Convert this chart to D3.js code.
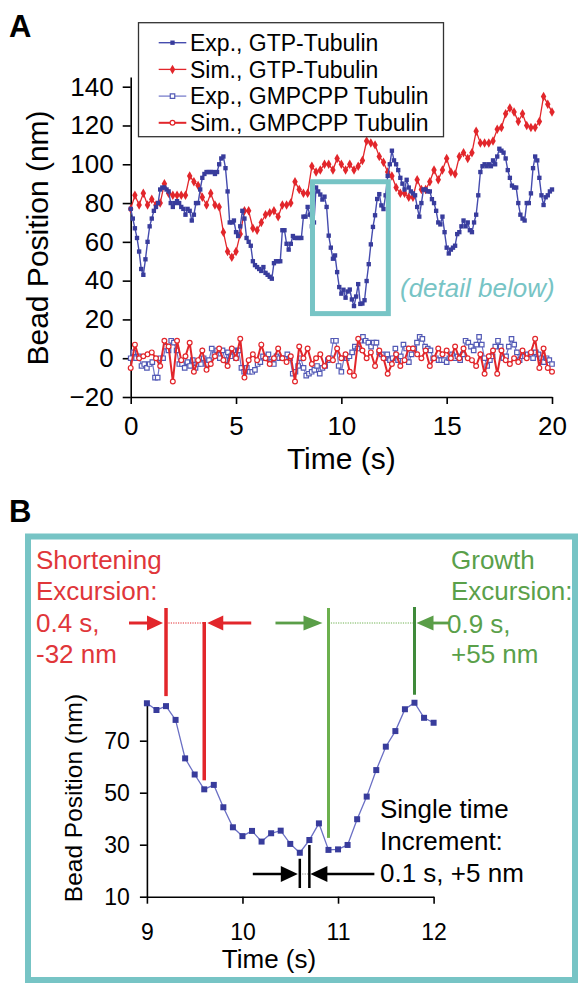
<!DOCTYPE html>
<html>
<head>
<meta charset="utf-8">
<title>Bead position traces</title>
<script src="https://d3js.org/d3.v7.min.js"></script>
<style>
  body { margin: 0; background: #fff; }
  svg text { font-family: "Liberation Sans", Arial, Helvetica, sans-serif; }
  .axis path, .axis line { stroke: #000; stroke-width: 1.6px; }
  .axis text { fill: #000; }
</style>
</head>
<body>
<svg id="fig" width="578" height="983"></svg>
<script>
// ---- panel A data ----
// experimental GTP-tubulin trace, one sample every 0.1 s
var expGTPStep = 0.1;
var expGTPStart = [ // 0.0 - 8.9 s
  77, 72, 67, 62, 55, 46, 43, 51, 60, 68,
  72, 76, 78, 80, 87, 88, 88, 87, 86, 80,
  78, 80, 81, 80, 78, 77, 74, 77, 76, 71,
  74, 80, 80, 87, 93, 95, 96, 96, 96, 96,
  95, 96, 100, 103, 104, 98, 86, 70, 70, 71,
  65, 63, 68, 76, 72, 62, 60, 58, 50, 48,
  47, 46, 45, 47, 44, 43, 42, 41, 49, 50,
  50, 50, 66, 66, 59, 56, 59, 63, 62, 62,
  62, 62, 73, 73, 78, 74, 68, 70, 88, 86
];
var detailBead = [ // 9.0 - 12.0 s, also panel B
  84.4, 81.8, 83.3, 78, 63.2, 57, 51.3, 53, 44.4, 36.7,
  33.3, 35.3, 31.2, 34.4, 35.4, 30.3, 26.9, 31.8, 38.2, 28,
  28.2, 29.9, 39.8, 48.5, 58.7, 67.7, 73.7, 82.1, 84.6, 78.8,
  76.9
];
var expGTPEnd = [ // 12.1 - 20.0 s
  84, 94, 100, 107, 102, 100, 97, 93, 90, 87,
  92, 88, 86, 85, 84, 78, 73, 80, 87, 87,
  86, 86, 82, 80, 76, 70, 69, 73, 65, 57,
  54, 56, 57, 58, 64, 65, 68, 71, 68, 70,
  66, 65, 70, 74, 84, 96, 99, 100, 99, 100,
  99, 102, 100, 104, 108, 107, 106, 103, 97, 93,
  89, 88, 88, 80, 74, 72, 71, 80, 80, 85,
  98, 104, 102, 93, 84, 79, 83, 84, 86, 87
];
var expGTP = expGTPStart.concat(detailBead, expGTPEnd);

// simulated GTP-tubulin, every 0.2 s
var simGTPStep = 0.2;
var simGTP = [
  77, 84, 79, 85, 79, 82, 79, 80, 90, 85,
  84, 84, 84, 84, 94, 91, 89, 83, 79, 85,
  79, 78, 65, 55, 52, 55, 64, 76, 76, 67,
  66, 70, 74, 75, 76, 73, 79, 79, 80, 91,
  87, 85, 85, 99, 96, 97, 100, 100, 97, 103,
  100, 97, 100, 97, 99, 102, 112, 111, 110, 104,
  101, 96, 94, 88, 85, 85, 83, 83, 92, 87,
  87, 91, 97, 92, 97, 103, 96, 95, 104, 106,
  103, 106, 117, 111, 111, 111, 112, 118, 119, 126,
  129, 127, 122, 126, 120, 119, 119, 122, 135, 131,
  127
];

// experimental GMPCPP tubulin, samples spread evenly over 0 - 20 s
var expGMPCPP = [
  0, 3, 0, 1, -4, -3, -5, -3, -2, -10,
  -10, 0, 0, 6, 4, 9, 8, 4, -3, -3,
  -5, -2, -4, -1, -5, -3, -3, 0, -3, -1,
  5, 2, 4, 0, 4, -1, 3, 1, 4, 0,
  4, -5, -7, -5, -7, -7, -6, -3, -2, 1,
  0, 2, -2, -3, 1, 0, 0, 0, 2, 0,
  -8, -7, -4, 0, -5, -9, -8, -7, -6, -4,
  -8, -5, -4, -1,
  0, 9, 9, -4, -7, 0, 0, 1, 3, 6,
  5, 9, 11, 9, 8, 6, 8, 8, 3, 2,
  0, 2, -1, 0, 5, -1, 1, 7, 5, -2,
  2, 5, 8, 11, 10, 6, 5, 4, 0, 0,
  -1, -1, -1, -2, 0, 2, 0, 1, -1, 2,
  9, 8, 6, 4, 7, 11, 7, 0, -4, -1,
  1, 6, 9, 6, 0, 1, 6, 10, 7, 3,
  -1, 1, 1, 2, 2, 0, 3, 2, 0, -2,
  0, -1, -3
];

// simulated GMPCPP tubulin, every 0.2 s
var simGMPCPPStep = 0.2;
var simGMPCPP = [
  -5, 7, 0, 1, 2, 3, 0, -4, 9, 6,
  -12, 9, -1, 1, 8, -7, -1, 4, -6, -3,
  1, 5, -1, -4, 5, 0, 10, -10, -1, 2,
  -1, 7, 0, -3, 0, 5, 0, -2, 1, -12,
  6, 0, 5, -3, 0, 2, -4, 0, -1, 5,
  0, 2, -7, -9, 10, 4, 0, 3, -4, 4,
  0, -8, -3, 2, -4, -1, 5, 5, 2, 0,
  4, -4, 0, 5, 2, 4, 0, 6, 0, 5,
  0, -1, -4, 2, -8, 1, 4, -8, 4, -1,
  -3, 0, -2, 4, 0, 3, 10, -5, 5, -5,
  -7
];

var timeTicksA = [0, 5, 10, 15, 20];
var beadTicksA = [-20, 0, 20, 40, 60, 80, 100, 120, 140];
var legendLabels = ["Exp., GTP-Tubulin", "Sim., GTP-Tubulin", "Exp., GMPCPP Tubulin", "Sim., GMPCPP Tubulin"];
var detailWindow = { t0: 8.63, t1: 12.23, lo: 23, hi: 91 };

// ---- panel B data ----
var detailStart = 9, detailStep = 0.1;
var timeTicksB = [9, 10, 11, 12];
var beadTicksB = [10, 30, 50, 70];
var shortening = { t0: 9.2, t1: 9.6, lines: ["Shortening", "Excursion:", "0.4 s,", "-32 nm"] };
var growth = { t0: 10.9, t1: 11.8, lines: ["Growth", "Excursion:", "0.9 s,", "+55 nm"] };
var increment = { t0: 10.6, t1: 10.7, lines: ["Single time", "Increment:", "0.1 s, +5 nm"] };

// ---- drawing ----
var svg = d3.select("#fig");
var blue = "#383c9c", red = "#e2262b", teal = "#77c4c5";
var redText = "#e0363a", greenText = "#5aa04a", green = "#6cb04e", darkGreen = "#3f8a3a";

function toPoints(values, step) {
  return values.map(function(v, i) { return [i * step, v]; });
}

function drawSeries(g, pts, x, y, st) {
  var line = d3.line().x(function(d) { return x(d[0]); }).y(function(d) { return y(d[1]); });
  g.append("path").datum(pts).attr("d", line)
    .attr("fill", "none").attr("stroke", st.line).attr("stroke-width", st.lw);
  g.append("g").selectAll("path").data(pts).join("path")
    .attr("transform", function(d) { return "translate(" + x(d[0]) + "," + y(d[1]) + ")"; })
    .attr("d", d3.symbol(st.symbol, st.size))
    .attr("fill", st.fill).attr("stroke", st.stroke).attr("stroke-width", st.sw);
}

var styles = [
  { line: "#454cae", lw: 1.4, symbol: d3.symbolSquare, size: 19, fill: blue, stroke: "none", sw: 0 },
  { line: red, lw: 1.3, symbol: d3.symbolDiamond, size: 26, fill: red, stroke: "none", sw: 0 },
  { line: "#6f74c8", lw: 1.2, symbol: d3.symbolSquare, size: 20, fill: "#fff", stroke: "#5259b5", sw: 1.2 },
  { line: red, lw: 2, symbol: d3.symbolCircle, size: 18, fill: "#fff", stroke: red, sw: 1.2 }
];

// ===== Panel A =====
var xA = d3.scaleLinear().domain([0, 20]).range([130.7, 552]);
var yA = d3.scaleLinear().domain([-20, 145]).range([397, 77]);

svg.append("text").attr("x", 9).attr("y", 37).attr("font-size", 31).attr("font-weight", "bold").text("A");

var gyA = svg.append("g").attr("class", "axis").attr("transform", "translate(130.7,0)")
  .call(d3.axisLeft(yA).tickValues(beadTicksA).tickSize(8).tickSizeOuter(0).tickPadding(9));
gyA.selectAll("text").attr("font-size", 26);
var gxA = svg.append("g").attr("class", "axis").attr("transform", "translate(0,397)")
  .call(d3.axisBottom(xA).tickValues(timeTicksA).tickSize(7).tickSizeOuter(0).tickPadding(13));
gxA.selectAll("text").attr("font-size", 26);

svg.append("text").attr("x", xA(10)).attr("y", 469).attr("text-anchor", "middle")
  .attr("font-size", 30).text("Time (s)");
svg.append("text").attr("transform", "translate(48," + yA(62) + ") rotate(-90)")
  .attr("text-anchor", "middle").attr("font-size", 30).text("Bead Position (nm)");

var plotA = svg.append("g");
drawSeries(plotA, toPoints(expGMPCPP, 20 / (expGMPCPP.length - 1)), xA, yA, styles[2]);
drawSeries(plotA, toPoints(simGMPCPP, simGMPCPPStep), xA, yA, styles[3]);
drawSeries(plotA, toPoints(simGTP, simGTPStep), xA, yA, styles[1]);
drawSeries(plotA, toPoints(expGTP, expGTPStep), xA, yA, styles[0]);

svg.append("rect")
  .attr("x", xA(detailWindow.t0)).attr("y", yA(detailWindow.hi))
  .attr("width", xA(detailWindow.t1) - xA(detailWindow.t0))
  .attr("height", yA(detailWindow.lo) - yA(detailWindow.hi))
  .attr("fill", "none").attr("stroke", teal).attr("stroke-width", 5);
svg.append("text").attr("x", 400).attr("y", 297).attr("font-size", 26)
  .attr("font-style", "italic").attr("fill", teal).text("(detail below)");

// legend
var leg = svg.append("g");
leg.append("rect").attr("x", 138.5).attr("y", 22.7).attr("width", 305).attr("height", 114)
  .attr("fill", "#fff").attr("stroke", "#333").attr("stroke-width", 1.3);
legendLabels.forEach(function(lab, i) {
  var cy = 42.7 + i * 26.7, st = styles[i];
  leg.append("line").attr("x1", 158.7).attr("x2", 186.3).attr("y1", cy).attr("y2", cy)
    .attr("stroke", st.line).attr("stroke-width", st.lw);
  leg.append("path").attr("transform", "translate(172.5," + cy + ")")
    .attr("d", d3.symbol(st.symbol, st.size))
    .attr("fill", st.fill).attr("stroke", st.stroke).attr("stroke-width", st.sw);
  leg.append("text").attr("x", 190).attr("y", cy).attr("dy", "0.36em")
    .attr("font-size", 23).text(lab);
});

// ===== Panel B =====
svg.append("text").attr("x", 9).attr("y", 522).attr("font-size", 31).attr("font-weight", "bold").text("B");
svg.append("rect").attr("x", 28).attr("y", 536.5).attr("width", 547).attr("height", 443.5)
  .attr("fill", "none").attr("stroke", teal).attr("stroke-width", 6);

var xB = d3.scaleLinear().domain([9, 12]).range([146.9, 433.6]);
var yB = d3.scaleLinear().domain([10, 84.5]).range([896.7, 703]);

var gyB = svg.append("g").attr("class", "axis").attr("transform", "translate(146.9,0)")
  .call(d3.axisLeft(yB).tickValues(beadTicksB).tickSize(7).tickSizeOuter(0).tickPadding(10));
gyB.selectAll("text").attr("font-size", 23);
var gxB = svg.append("g").attr("class", "axis").attr("transform", "translate(0,896.7)")
  .call(d3.axisBottom(xB).tickValues(timeTicksB).tickFormat(d3.format("d"))
    .tickSize(7).tickSizeOuter(0).tickPadding(20));
gxB.selectAll("text").attr("font-size", 23);

svg.append("text").attr("x", 269).attr("y", 968).attr("text-anchor", "middle")
  .attr("font-size", 26).text("Time (s)");
svg.append("text").attr("transform", "translate(82,798) rotate(-90)")
  .attr("text-anchor", "middle").attr("font-size", 24.5).text("Bead Position (nm)");

var detailPts = detailBead.map(function(v, i) { return [detailStart + i * detailStep, v]; });
drawSeries(svg.append("g"), detailPts, xB, yB,
  { line: "#6a6fc4", lw: 1.3, symbol: d3.symbolSquare, size: 36, fill: blue, stroke: "none", sw: 0 });

function beadAt(t) { return detailBead[Math.round((t - detailStart) / detailStep)]; }

function vLine(x, y1, y2, color, w) {
  svg.append("line").attr("x1", x).attr("x2", x).attr("y1", y1).attr("y2", y2)
    .attr("stroke", color).attr("stroke-width", w);
}
// arrow pointing in direction dir (+1 right, -1 left), tip at tipX
function arrow(tipX, y, dir, shaft, headLen, half, color, w) {
  svg.append("line").attr("x1", tipX - dir * shaft).attr("x2", tipX - dir * (headLen - 1))
    .attr("y1", y).attr("y2", y).attr("stroke", color).attr("stroke-width", w);
  svg.append("path")
    .attr("d", "M" + tipX + "," + y + "L" + (tipX - dir * headLen) + "," + (y - half) +
      "L" + (tipX - dir * headLen) + "," + (y + half) + "Z")
    .attr("fill", color);
}
function dotted(x1, x2, y, color) {
  svg.append("line").attr("x1", x1).attr("x2", x2).attr("y1", y).attr("y2", y)
    .attr("stroke", color).attr("stroke-width", 1).attr("stroke-dasharray", "1.2,1.2");
}
function textBlock(lines, x, y0, dy, color) {
  lines.forEach(function(s, i) {
    svg.append("text").attr("x", x).attr("y", y0 + i * dy).attr("font-size", 26)
      .attr("fill", color).text(s);
  });
}

// shortening excursion
var sx0 = xB(shortening.t0), sx1 = xB(shortening.t1), ay = 623;
dotted(sx0, sx1, ay, red);
vLine(sx0, 608, yB(beadAt(shortening.t0)) - 10, red, 3.5);
vLine(sx1, 622, yB(beadAt(shortening.t1)) - 9, red, 3.5);
arrow(sx0 - 3, ay, 1, 34, 16, 7.5, red, 3);
arrow(sx1 + 3, ay, -1, 44, 16, 7.5, red, 3);
textBlock(shortening.lines, 36, 569, 31.3, redText);

// growth excursion
var gx0 = xB(growth.t0), gx1 = xB(growth.t1);
dotted(gx0, gx1, ay, green);
vLine(gx0, 608, yB(beadAt(growth.t0)) - 12, green, 3);
vLine(gx1, 607, yB(beadAt(growth.t1)) - 8, darkGreen, 3);
arrow(gx0 - 6, ay, 1, 47, 19, 7.5, "#5a9e48", 2.8);
arrow(gx1 + 2, ay, -1, 33, 17, 7.5, "#5a9e48", 2.8);
textBlock(growth.lines.slice(0, 2), 451, 569, 31.3, greenText);
svg.append("text").attr("x", 447).attr("y", 633).attr("font-size", 26).attr("fill", greenText).text(growth.lines[2]);
svg.append("text").attr("x", 451).attr("y", 663).attr("font-size", 26).attr("fill", greenText).text(growth.lines[3]);

// single time increment
var ix0 = xB(increment.t0), ix1 = xB(increment.t1), by = 874;
dotted(ix0, ix1, by, "#888");
vLine(ix0, yB(beadAt(increment.t0)) + 6, 888, "#000", 2.5);
vLine(ix1, yB(beadAt(increment.t1)) + 5, 888, "#000", 2.5);
arrow(ix0 - 2, by, 1, 45, 17, 8, "#000", 2.5);
arrow(ix1 + 1, by, -1, 64, 17, 8, "#000", 2.5);
textBlock(increment.lines, 380, 818, 31.8, "#000");
</script>
</body>
</html>
